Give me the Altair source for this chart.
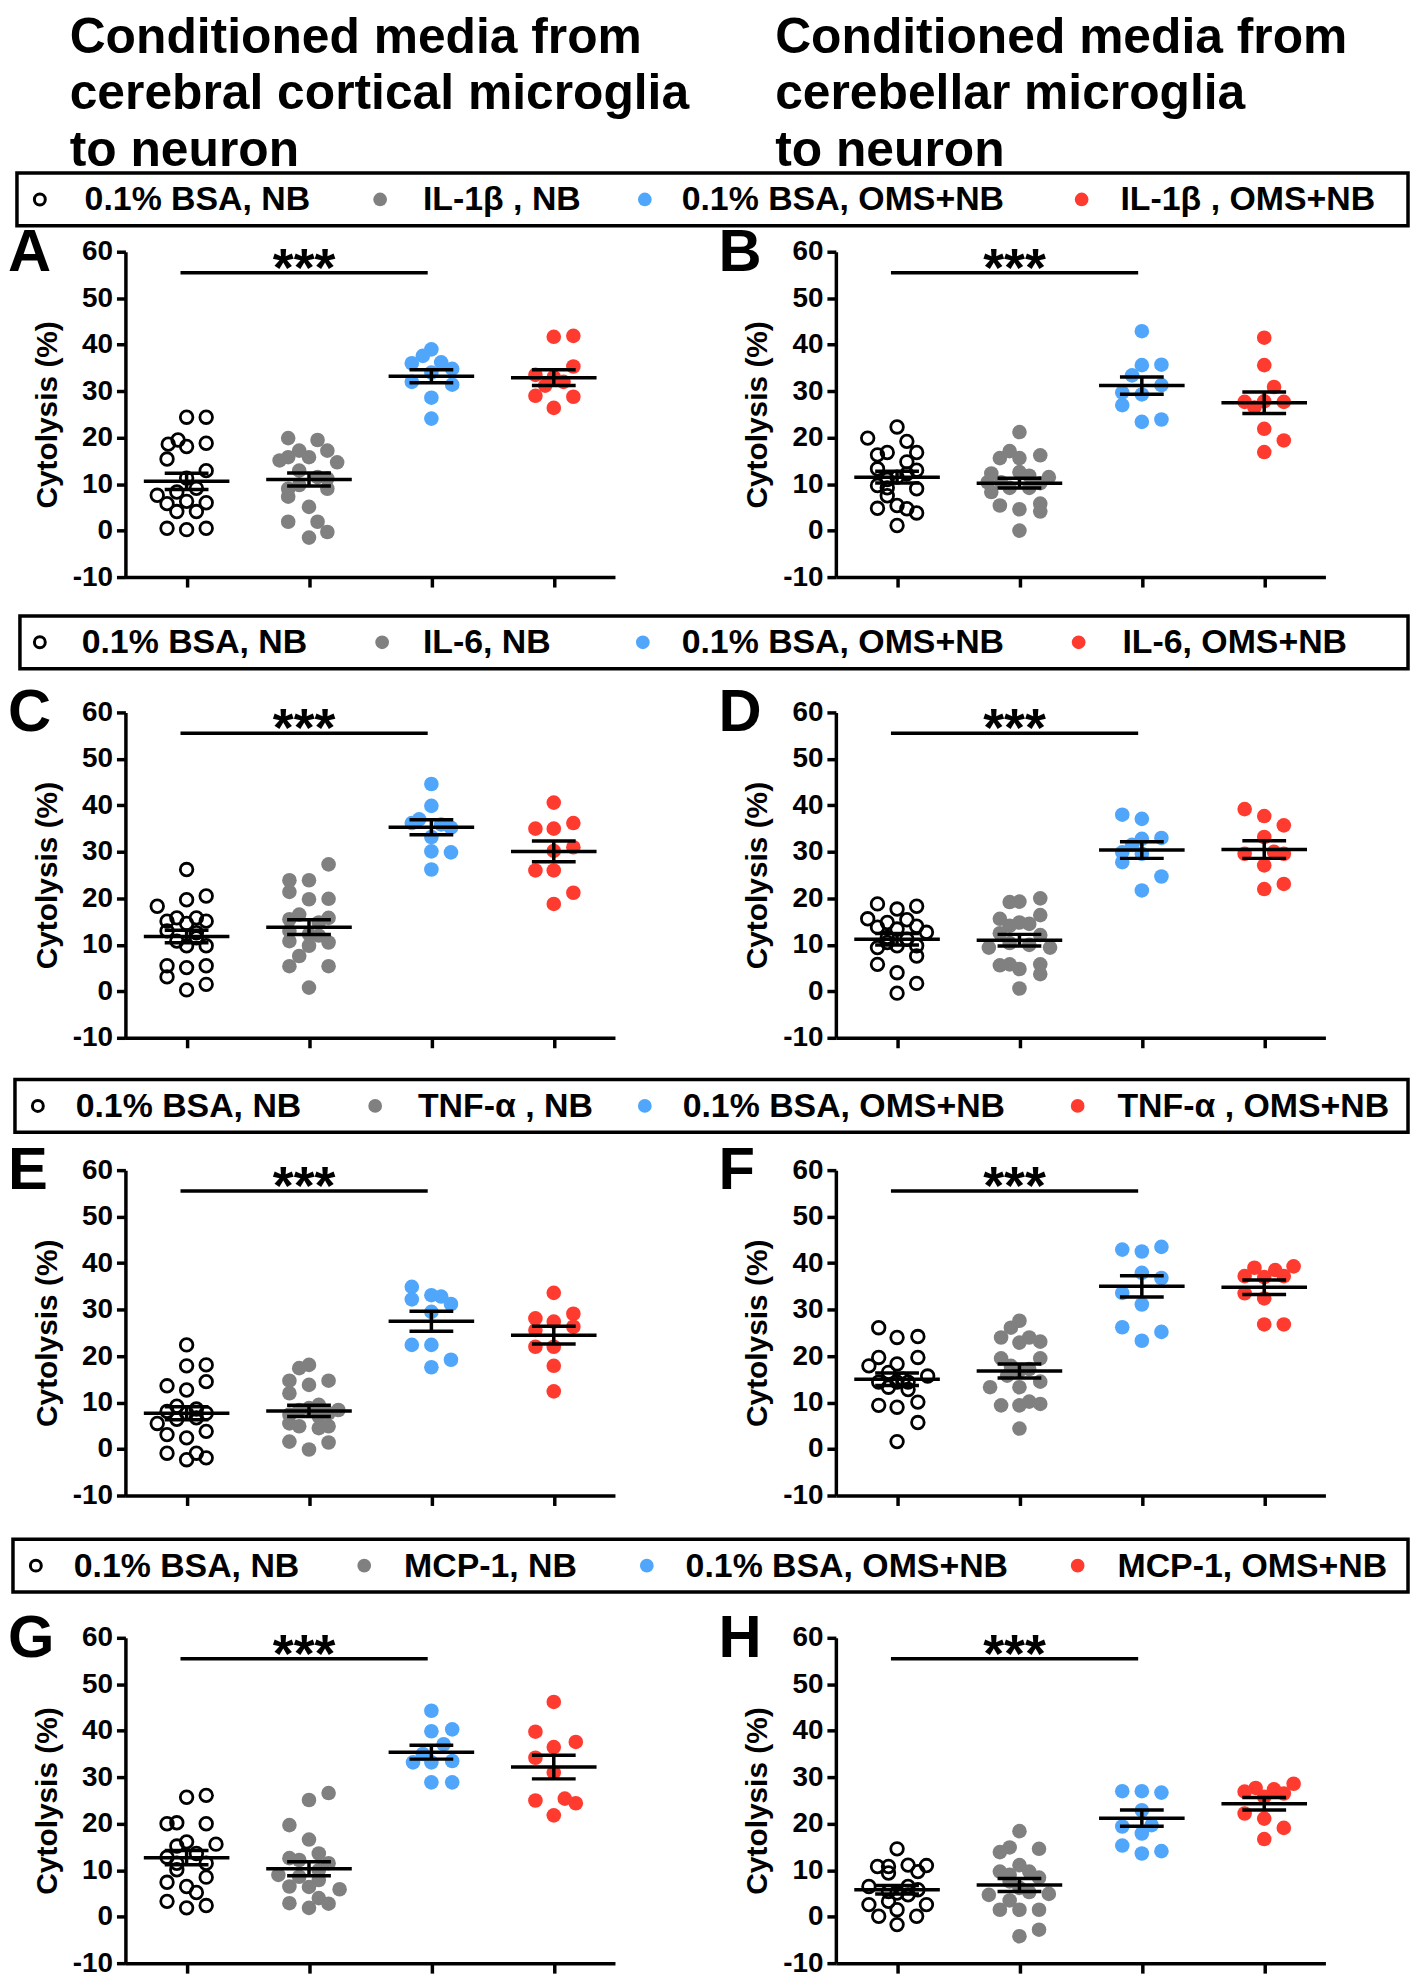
import glob
import os

import altair as alt
import pandas as pd

FONT = "Liberation Sans"
BLACK = "#000000"
GRAY = "#808080"
BLUE = "#4FA6FA"
RED = "#FF3A2F"


def _has_font(pattern):
    dirs = ["/usr/share/fonts", "/usr/local/share/fonts",
            os.path.expanduser("~/.fonts"), os.path.expanduser("~/.local/share/fonts")]
    for d in dirs:
        if os.path.isdir(d) and glob.glob(os.path.join(d, "**", pattern), recursive=True):
            return True
    return False


if _has_font("LiberationSansNarrow-Bold*"):
    AXIS_FONT = "Liberation Sans Narrow"
    TICK_FS, AXTITLE_FS, LETTER_FS, TITLE_PAD = 30, 36, 60, 11
else:
    AXIS_FONT = FONT
    TICK_FS, AXTITLE_FS, LETTER_FS, TITLE_PAD = 28, 30, 60, 10

TITLE_LEFT = ["Conditioned media from", "cerebral cortical microglia", "to neuron"]
TITLE_RIGHT = ["Conditioned media from", "cerebellar microglia", "to neuron"]

LEGEND_1 = ["0.1% BSA, NB", "IL-1\u03b2 , NB", "0.1% BSA, OMS+NB", "IL-1\u03b2 , OMS+NB"]
LEGEND_2 = ["0.1% BSA, NB", "IL-6, NB", "0.1% BSA, OMS+NB", "IL-6, OMS+NB"]
LEGEND_3 = ["0.1% BSA, NB", "TNF-\u03b1 , NB", "0.1% BSA, OMS+NB", "TNF-\u03b1 , OMS+NB"]
LEGEND_4 = ["0.1% BSA, NB", "MCP-1, NB", "0.1% BSA, OMS+NB", "MCP-1, OMS+NB"]

Y_TITLE = "Cytolysis (%)"
Y_TICKS = [-10, 0, 10, 20, 30, 40, 50, 60]
X_TICKS = [0, 1, 2, 3]
SIG_X = [-0.05, 1.97]
SIG_Y = 55.5
STAR_X = 0.96
STARS = "***"

# ---------------- data ----------------
A_VALUES = [
    [24.4, 24.4, 18.6, 19.5, 18.1, 18.8, 15.4, 12.9, 11.3, 7.6, 8.3, 9.1, 5.8, 6.0, 6.3, 4.1, 4.1, 0.5, 0.2, 0.5],
    [19.9, 19.5, 17.2, 15.1, 15.8, 15.8, 17.2, 14.7, 12.9, 11.5, 11.2, 9.0, 9.0, 7.3, 5.1, 1.9, 1.9, -0.3, -1.5, 9.8],
    [39.0, 37.6, 36.0, 36.2, 34.8, 34.0, 32.0, 31.4, 28.6, 24.1],
    [41.7, 41.9, 35.3, 33.5, 33.0, 31.2, 29.0, 28.8, 26.4, 32.0]]
A_JITTER = [
    [0, 0.16, -0.15, -0.07, 0, 0.16, -0.16, 0.16, 0, -0.24, -0.08, 0.08, -0.16, 0.16, 0, -0.08, 0.08, -0.16, 0, 0.16],
    [-0.17, 0.07, -0.08, -0.24, -0.17, 0, 0.15, 0.23, -0.08, 0.07, 0.15, -0.17, 0.15, -0.17, 0, -0.17, 0.07, 0.15, 0, -0.08],
    [0, -0.07, -0.16, 0.08, 0.17, 0, -0.16, 0.17, 0, 0],
    [0, 0.16, 0.16, -0.15, 0, -0.07, -0.15, 0.16, 0, 0.08]]
A_MEAN = [10.6, 11.0, 33.2, 32.9]
A_SEM = [1.75, 1.4, 1.4, 1.7]

B_VALUES = [
    [22.3, 19.9, 19.2, 16.3, 16.8, 16.8, 14.8, 13.3, 13.0, 11.5, 12.2, 11.0, 9.7, 9.0, 9.2, 4.8, 5.4, 4.7, 3.8, 1.1, 7.5],
    [21.2, 17.1, 15.6, 15.6, 16.2, 12.3, 12.6, 11.8, 11.5, 10.4, 10.4, 10.2, 9.2, 9.2, 5.4, 4.6, 4.1, 5.8, 0.0, 8.3],
    [42.9, 35.6, 35.7, 33.4, 29.7, 29.3, 31.3, 27.0, 23.4, 23.9],
    [41.5, 35.6, 30.9, 27.7, 27.8, 27.7, 21.9, 19.4, 16.9, 26.5]]
B_JITTER = [
    [0, -0.24, 0.08, -0.16, -0.08, 0.16, 0.08, -0.16, 0.16, 0, 0.08, -0.08, -0.16, 0.16, -0.08, -0.16, 0, 0.08, 0.16, 0, -0.08],
    [0, -0.08, -0.16, 0, 0.17, -0.23, 0, 0.08, 0.24, -0.26, -0.15, 0.17, -0.08, 0.08, -0.16, 0, 0.17, 0.17, 0, -0.23],
    [0, 0, 0.16, -0.08, -0.16, 0, 0.16, -0.16, 0, 0.16],
    [0, 0, 0.08, -0.16, 0, 0.16, 0, 0.16, 0, -0.08]]
B_MEAN = [11.5, 10.2, 31.2, 27.5]
B_SEM = [1.25, 1.05, 1.85, 2.3]

C_VALUES = [
    [26.2, 18.3, 19.7, 20.5, 15.8, 15.1, 15.8, 15.1, 14.6, 13.0, 12.6, 10.8, 9.8, 9.8, 5.5, 5.5, 5.1, 3.1, 1.5, 0.3, 11.5],
    [27.3, 23.9, 23.9, 21.4, 19.8, 19.9, 16.5, 15.5, 15.8, 14.8, 13.0, 12.3, 10.8, 9.8, 10.5, 7.6, 5.4, 5.4, 0.8, 12.0],
    [44.6, 39.9, 37.0, 36.2, 35.9, 35.2, 33.2, 30.1, 29.9, 26.2],
    [40.6, 36.2, 35.0, 35.0, 31.0, 30.2, 26.0, 26.0, 21.2, 18.8]]
C_JITTER = [
    [0, -0.24, 0, 0.16, -0.08, -0.16, 0.08, 0.16, 0, -0.16, 0.08, -0.08, 0, 0.16, -0.16, 0.16, 0, -0.16, 0.16, 0, 0.08],
    [0.16, -0.16, 0, -0.16, 0, 0.16, -0.08, -0.16, 0.16, 0.08, -0.16, 0, -0.16, 0, 0.16, -0.08, -0.16, 0.16, 0, 0.08],
    [0, 0, -0.1, -0.16, 0.08, 0.16, 0, 0, 0.16, 0],
    [0, 0.16, -0.15, 0, 0.16, 0, -0.15, 0, 0.16, 0]]
C_MEAN = [11.8, 13.8, 35.3, 30.1]
C_SEM = [1.35, 1.6, 1.6, 2.25]

D_VALUES = [
    [18.8, 17.7, 18.3, 15.6, 14.8, 15.4, 13.8, 14.0, 13.4, 12.7, 11.6, 11.2, 9.4, 9.8, 7.6, 5.8, 4.0, 1.7, -0.4, 9.8, 10.5],
    [19.2, 19.3, 20.0, 16.4, 15.6, 14.8, 14.5, 14.1, 12.1, 9.4, 10.4, 10.0, 9.4, 5.6, 4.8, 3.7, 0.6, 5.8, 5.8, 12.5],
    [38.0, 37.1, 31.5, 32.8, 33.0, 29.9, 29.6, 27.8, 24.7, 21.7],
    [39.2, 37.7, 35.7, 33.2, 29.6, 30.0, 29.6, 27.1, 23.1, 22.0]]
D_JITTER = [
    [-0.16, 0, 0.16, -0.24, -0.08, 0.08, -0.16, 0.16, 0, 0.24, -0.08, 0.08, -0.16, 0, 0.16, -0.16, 0, 0.16, 0, 0.16, -0.08],
    [-0.08, 0, 0.17, 0.17, -0.16, 0, 0.08, -0.08, 0.17, -0.25, -0.08, 0.08, 0.25, -0.16, 0, 0.17, 0, -0.08, 0.17, -0.16],
    [-0.16, 0, -0.08, 0, 0.16, -0.16, 0, -0.16, 0.16, 0],
    [-0.16, 0, 0.16, 0, -0.16, 0.08, 0.16, 0, 0.16, 0]]
D_MEAN = [11.2, 11.0, 30.4, 30.5]
D_SEM = [1.25, 1.25, 1.8, 1.9]

E_VALUES = [
    [22.4, 17.9, 18.1, 13.6, 12.7, 14.5, 9.2, 8.1, 8.6, 7.7, 7.7, 6.7, 3.1, 2.4, 3.8, -0.9, -0.9, -2.3, -1.9, 6.4, 5.5],
    [17.4, 18.1, 14.7, 13.8, 14.7, 12.0, 9.5, 8.4, 8.8, 7.7, 8.4, 7.4, 7.0, 4.9, 4.5, 4.9, 1.6, 1.4, -0.1, 5.5],
    [34.9, 32.2, 33.1, 32.8, 31.2, 29.5, 22.4, 22.4, 19.2, 17.6],
    [33.6, 29.1, 28.1, 27.4, 26.3, 25.6, 22.0, 22.0, 17.9, 12.4]]
E_JITTER = [
    [0, 0, 0.16, -0.16, 0, 0.16, -0.08, -0.16, 0.08, 0.16, 0, 0.08, -0.16, 0, 0.16, -0.16, 0.08, 0, 0.16, -0.08, -0.24],
    [-0.08, 0, -0.16, 0, 0.16, -0.16, 0.08, -0.08, 0, 0.16, 0.24, -0.16, 0.08, -0.08, 0.08, 0.16, -0.16, 0.16, 0, -0.16],
    [-0.16, -0.16, 0, 0.08, 0.16, 0, -0.16, 0, 0.16, 0],
    [0, 0.16, -0.15, 0, 0.16, -0.15, -0.15, 0, 0, 0]]
E_MEAN = [7.7, 8.2, 27.5, 24.5]
E_SEM = [1.4, 1.2, 2.15, 1.9]

F_VALUES = [
    [26.1, 24.0, 24.2, 19.7, 19.7, 17.9, 18.3, 16.5, 15.7, 14.4, 14.4, 14.4, 13.3, 12.8, 9.4, 9.0, 10.1, 5.7, 1.6, 15.0],
    [27.6, 26.1, 24.0, 24.0, 23.1, 22.9, 19.5, 19.5, 17.9, 16.9, 17.2, 14.5, 13.3, 13.3, 9.4, 9.4, 10.2, 9.7, 4.4, 15.8],
    [42.9, 42.5, 43.5, 37.9, 36.8, 33.6, 31.1, 26.2, 25.2, 23.3],
    [39.3, 39.0, 38.5, 37.2, 37.0, 37.2, 33.5, 32.4, 26.8, 26.8]]
F_JITTER = [
    [-0.15, 0, 0.17, -0.15, 0.17, -0.23, 0, -0.07, 0.25, -0.15, 0, 0.09, -0.07, 0.09, -0.15, 0, 0.17, 0.17, 0, 0.05],
    [0, -0.07, -0.15, 0.08, 0.17, 0, -0.15, 0.17, -0.07, 0, 0.08, 0.17, -0.24, 0, -0.15, 0, 0.08, 0.17, 0, -0.1],
    [-0.16, 0, 0.16, 0, 0.16, -0.16, 0, -0.16, 0.16, 0],
    [0.24, -0.08, 0.09, -0.16, 0, 0.16, -0.16, 0, 0, 0.16]]
F_MEAN = [15.0, 16.8, 35.0, 34.8]
F_SEM = [1.35, 1.5, 2.3, 1.55]

G_VALUES = [
    [25.7, 26.1, 20.0, 20.2, 20.0, 16.1, 15.2, 15.6, 13.6, 12.8, 11.5, 11.5, 10.1, 8.5, 7.4, 6.5, 5.2, 3.3, 2.4, 1.9],
    [26.6, 25.1, 19.7, 16.6, 12.6, 13.6, 12.2, 11.5, 9.0, 8.6, 7.9, 6.5, 6.4, 5.9, 4.0, 2.9, 1.9, 2.8, 10.0],
    [44.3, 40.3, 39.9, 37.1, 35.0, 33.2, 33.2, 33.5, 28.9, 28.9],
    [46.2, 39.8, 37.6, 36.5, 34.2, 31.0, 25.0, 25.4, 24.4, 21.8]]
G_JITTER = [
    [0, 0.16, -0.16, -0.08, 0.16, 0, -0.08, 0.24, 0.08, -0.16, 0.16, -0.08, -0.08, 0.16, -0.16, 0, 0.08, -0.16, 0.16, 0],
    [0.16, 0, -0.16, 0, -0.16, 0.08, -0.08, 0.16, -0.25, -0.08, 0.08, -0.16, 0, 0.25, 0.08, -0.16, 0, 0.16, 0.08],
    [0, 0.17, 0, 0.1, -0.07, -0.15, 0, 0.17, 0, 0.17],
    [0, -0.15, 0.18, 0, -0.15, 0, -0.15, 0.09, 0.18, 0]]
G_MEAN = [12.7, 10.3, 35.4, 32.2]
G_SEM = [1.55, 1.5, 1.5, 2.55]

H_VALUES = [
    [14.6, 10.8, 10.8, 11.1, 11.0, 9.4, 9.7, 6.5, 5.4, 6.5, 5.1, 5.8, 2.6, 3.3, 2.6, 0.1, 1.5, 0.1, -1.7, 4.7],
    [18.4, 14.9, 13.9, 14.6, 11.1, 9.7, 9.7, 8.4, 7.6, 6.2, 4.7, 4.9, 5.3, 1.5, 1.5, 1.5, -2.8, -4.2, 9.0, 3.5],
    [27.0, 27.0, 26.7, 22.9, 19.4, 17.9, 15.3, 14.1, 13.6, 19.7],
    [28.6, 27.7, 27.4, 26.9, 26.5, 25.8, 22.2, 21.1, 19.1, 16.7]]
H_JITTER = [
    [0, -0.16, -0.07, 0.09, 0.24, -0.07, 0.17, -0.23, -0.07, 0.09, 0, 0.17, -0.23, -0.07, 0.24, -0.15, 0, 0.16, 0, 0.09],
    [0, -0.08, -0.16, 0.16, 0, -0.16, 0.08, 0.16, -0.08, 0, -0.25, 0.24, 0.08, -0.16, 0, 0.16, 0.16, 0, -0.08, -0.08],
    [-0.16, 0, 0.16, 0, -0.16, 0, -0.16, 0.16, 0, 0.08],
    [0.24, -0.07, 0.08, -0.16, 0.16, 0, -0.16, 0, 0.16, 0]]
H_MEAN = [5.8, 6.8, 21.2, 24.3]
H_SEM = [0.9, 1.4, 1.75, 1.35]

# ---------------- layout constants ----------------
PW, PH = 492, 327
LW = 3.5
ONE = pd.DataFrame({"k": [0]})

XS = alt.Scale(domain=[-0.5, 3.5], nice=False, zero=False)
YS = alt.Scale(domain=[-10, 60], nice=False, zero=False)

X_AXIS = alt.Axis(values=X_TICKS, labels=False, title=None, tickSize=10,
                  domainColor=BLACK, domainWidth=LW, tickColor=BLACK, tickWidth=LW,
                  grid=False)
Y_AXIS = alt.Axis(values=Y_TICKS, title=Y_TITLE, tickSize=9,
                  domainColor=BLACK, domainWidth=LW, tickColor=BLACK, tickWidth=LW,
                  grid=False, labelExpr="'' + datum.value",
                  labelFont=AXIS_FONT, labelFontSize=TICK_FS, labelFontWeight="bold", labelColor=BLACK,
                  labelPadding=4, labelFlush=False,
                  titleFont=AXIS_FONT, titleFontSize=AXTITLE_FS, titleFontWeight="bold",
                  titleColor=BLACK, titlePadding=TITLE_PAD)


def spacer(x1, x2, y1, y2):
    return alt.Chart(ONE).mark_rect(opacity=0).encode(
        x=alt.value(x1), x2=alt.value(x2), y=alt.value(y1), y2=alt.value(y2))


def xq(field):
    return alt.X(field, scale=XS, axis=X_AXIS)


def yq(field):
    return alt.Y(field, scale=YS, axis=Y_AXIS)


def panel(letter, values, jitter, means, sems, sp):
    rows = []
    for g in range(4):
        for v, j in zip(values[g], jitter[g]):
            rows.append({"g": g, "j": j, "v": v})
    pts = pd.DataFrame(rows)
    stats = pd.DataFrame({"g": X_TICKS, "m": means, "s": sems})

    base = alt.Chart(pts).transform_calculate(xp="datum.g + datum.j")
    opened = base.transform_filter("datum.g == 0").mark_point(
        shape="circle", filled=False, size=160, strokeWidth=2.8, opacity=1, color=BLACK
    ).encode(x=xq("xp:Q"), y=yq("v:Q"))
    filled = base.transform_filter("datum.g > 0").mark_circle(size=215, opacity=1).encode(
        x=xq("xp:Q"), y=yq("v:Q"),
        color=alt.Color("g:N", scale=alt.Scale(domain=[1, 2, 3], range=[GRAY, BLUE, RED]), legend=None))

    sb = alt.Chart(stats).transform_calculate(lo="datum.m - datum.s", hi="datum.m + datum.s")
    mean_t = sb.mark_tick(orient="horizontal", size=86, thickness=LW, color=BLACK, opacity=1).encode(
        x=xq("g:Q"), y=yq("m:Q"))
    err = sb.mark_rule(strokeWidth=LW, color=BLACK).encode(
        x=xq("g:Q"), y=yq("lo:Q"), y2="hi:Q")
    cap_lo = sb.mark_tick(orient="horizontal", size=44, thickness=LW, color=BLACK, opacity=1).encode(
        x=xq("g:Q"), y=yq("lo:Q"))
    cap_hi = sb.mark_tick(orient="horizontal", size=44, thickness=LW, color=BLACK, opacity=1).encode(
        x=xq("g:Q"), y=yq("hi:Q"))

    sig = pd.DataFrame({"x1": [SIG_X[0]], "x2": [SIG_X[1]], "y": [SIG_Y], "t": [STARS], "xs": [STAR_X]})
    sig_rule = alt.Chart(sig).mark_rule(strokeWidth=LW, color=BLACK).encode(
        x=xq("x1:Q"), x2="x2:Q", y=yq("y:Q"))
    stars = alt.Chart(sig).mark_text(font=FONT, fontSize=54, fontWeight="bold", dy=13,
                                     align="center", baseline="alphabetic", color=BLACK).encode(
        x=xq("xs:Q"), y=yq("y:Q"), text="t:N")

    lab = alt.Chart(ONE).mark_text(text=letter, font=AXIS_FONT, fontSize=LETTER_FS, fontWeight="bold",
                                   align="left", baseline="alphabetic", color=BLACK).encode(
        x=alt.value(-118), y=alt.value(19))

    return alt.layer(opened, filled, mean_t, err, cap_lo, cap_hi, sig_rule, stars, lab,
                     spacer(sp[0], sp[1], -60, sp[2])).properties(width=PW, height=PH)


def legend_layers(labels, box_x, box_y, sym_x, txt_x):
    cy = (box_y[0] + box_y[1]) / 2
    layers = [alt.Chart(ONE).mark_rect(fillOpacity=0, stroke=BLACK, strokeWidth=LW).encode(
        x=alt.value(box_x[0]), x2=alt.value(box_x[1]), y=alt.value(box_y[0]), y2=alt.value(box_y[1]))]
    layers.append(alt.Chart(ONE).mark_point(shape="circle", filled=False, size=120, strokeWidth=3,
                                            color=BLACK, opacity=1).encode(
        x=alt.value(sym_x[0]), y=alt.value(cy)))
    for sx, c in zip(sym_x[1:], [GRAY, BLUE, RED]):
        layers.append(alt.Chart(ONE).mark_circle(size=190, color=c, opacity=1).encode(
            x=alt.value(sx), y=alt.value(cy)))
    for tx, t in zip(txt_x, labels):
        layers.append(alt.Chart(ONE).mark_text(text=t, font=FONT, fontSize=34, fontWeight="bold",
                                               align="left", baseline="middle", color=BLACK).encode(
            x=alt.value(tx), y=alt.value(cy + 1)))
    return layers


def title_lines(lines, x, y0, step):
    return [alt.Chart(ONE).mark_text(text=t, font=FONT, fontSize=50, fontWeight="bold",
                                     align="left", baseline="alphabetic", color=BLACK).encode(
        x=alt.value(x), y=alt.value(y0 + i * step)) for i, t in enumerate(lines)]


E0 = alt.layer(spacer(-100, 1200, 0, 219),
               *title_lines(TITLE_LEFT, -56, 34, 57), *title_lines(TITLE_RIGHT, 653, 34, 57),
               *legend_layers(LEGEND_1, (-109, 1289), (155, 208), (-86, 256, 522, 961), (-41, 299, 559, 1000))
               ).properties(width=PW, height=150)

E2 = alt.layer(spacer(-100, 1200, -49, 84),
               *legend_layers(LEGEND_2, (-106, 1289), (2, 55), (-86, 258, 520, 958), (-44, 299, 559, 1002))
               ).properties(width=PW, height=30)
E3 = alt.layer(spacer(-100, 1200, -52, 78),
               *legend_layers(LEGEND_3, (-111, 1289), (2, 55), (-88, 251, 522, 957), (-50, 294, 560, 997))
               ).properties(width=PW, height=30)
E4 = alt.layer(spacer(-100, 1200, -54, 86),
               *legend_layers(LEGEND_4, (-113, 1289), (2, 55), (-90, 240, 524, 957), (-52, 280, 563, 997))
               ).properties(width=PW, height=30)

LEFT_SP = (-110, 560, 360)
RIGHT_SP = (-150, 500, 360)

R1 = alt.hconcat(panel("A", A_VALUES, A_JITTER, A_MEAN, A_SEM, LEFT_SP),
                 panel("B", B_VALUES, B_JITTER, B_MEAN, B_SEM, RIGHT_SP), spacing=4)
R2 = alt.hconcat(panel("C", C_VALUES, C_JITTER, C_MEAN, C_SEM, LEFT_SP),
                 panel("D", D_VALUES, D_JITTER, D_MEAN, D_SEM, RIGHT_SP), spacing=4)
R3 = alt.hconcat(panel("E", E_VALUES, E_JITTER, E_MEAN, E_SEM, LEFT_SP),
                 panel("F", F_VALUES, F_JITTER, F_MEAN, F_SEM, RIGHT_SP), spacing=4)
R4 = alt.hconcat(panel("G", G_VALUES, G_JITTER, G_MEAN, G_SEM, (-110, 560, 345)),
                 panel("H", H_VALUES, H_JITTER, H_MEAN, H_SEM, (-150, 500, 345)), spacing=4)

chart = alt.vconcat(E0, R1, E2, R2, E3, R3, E4, R4, spacing=-45).properties(
    padding=0, background="white"
).configure(font=FONT).configure_view(stroke=None)

chart.save("out.html", embed_options={"renderer": "svg", "actions": False})
